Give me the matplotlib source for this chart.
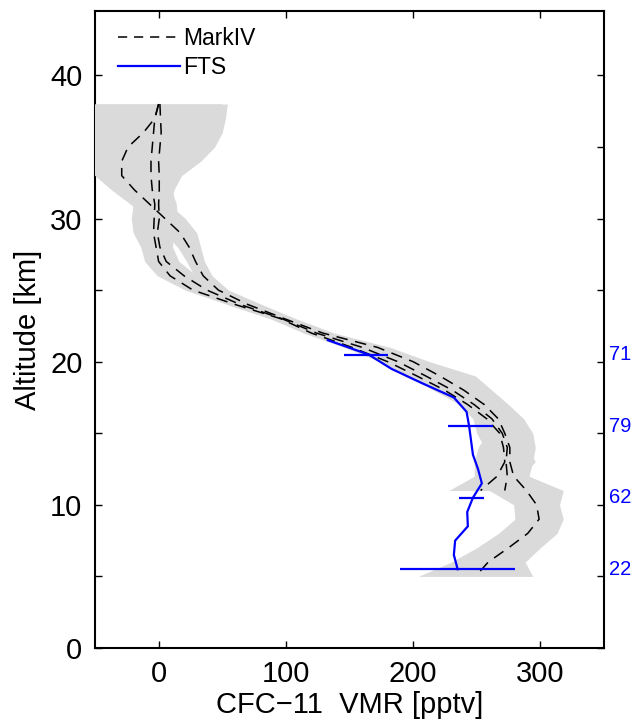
import numpy as np
import matplotlib
matplotlib.use("Agg")
import matplotlib.pyplot as plt
from matplotlib.lines import Line2D
from matplotlib.ticker import MultipleLocator

plt.rcParams['font.family'] = ['Liberation Sans', 'DejaVu Sans']

# MarkIV profiles on a 1 km grid (38 km down to 5 km), NaN where the profile ends
alt_mk = np.arange(38, 4, -1)
mk_a = [0, -3, -12, -24, -29, -29, -19, -7, 5, 17, 24, 29, 35, 47, 70, 99, 129,
        172, 200, 221, 240, 256, 267, 272, 276, 276, 279, 289, 297, 299, 290, 275, 259, 249]
mk_a_err = [50, 48, 45, 40, 33, 21, 18, 15, 16, 13, 9, 7, 7, 8, 11, 9, 9,
            10, 13, 28, 22, 19, 20, 22, 20, 18, 12, 29, 18, 19, 23, 25, 29, 45]
mk_b = [0, -3, -4, -5, -6, -6, -5, -3, -3.5, -4, -2, 0, 9, 27, 60, 96, 120,
        152, 180, 203, 225, 243, 258, 268, 271, 272, 266, 253]
mk_b_err = [50, 48, 45, 40, 33, 17, 15, 17, 18, 16, 12, 11, 10, 6, 6, 8, 6,
            6, 6, 6, 9, 6, 10, 10, 20, 24, 18, 25]
mk_c = [1, 1.5, 2, 1, 0, 0.5, 0.5, 0, 0.5, -1, 1, 6, 20, 38, 64, 97, 124,
        160, 188, 210, 231, 248, 262, 270, 274, 273, 274, 272]
mk_c_err = [53, 51, 48, 43, 33, 17.5, 11.5, 10, 12, 12, 10, 10, 10, 10, 10, 9, 8,
            10, 12, 14, 12, 12, 12, 14, 16, 16, 14, 20]

# FTS profile
alt_fts = np.arange(21.5, 5, -1)
fts = [133, 165, 183, 207, 232, 242, 244, 245.5, 247, 251, 254, 247, 242.5, 243, 233, 232, 235]

# FTS error bars and number of occultations
alt_bar = [20.5, 15.5, 10.5, 5.5]
bar_x = [163, 245, 246, 235]
bar_err = [17, 17.5, 10, 45]
counts = ['71', '79', '62', '22']

fig = plt.figure(figsize=(6.35, 7.24), dpi=100)
ax = fig.add_axes([0.1496, 0.105, 0.8016, 0.8798])

gray = '#dadada'
for x, e in [(mk_a, mk_a_err), (mk_b, mk_b_err), (mk_c, mk_c_err)]:
    x = np.array(x, dtype=float)
    e = np.array(e, dtype=float)
    z = alt_mk[:len(x)]
    ax.fill_betweenx(z, x - e, x + e, color=gray, lw=0, zorder=3)

for x in [mk_a, mk_b, mk_c]:
    ax.plot(x, alt_mk[:len(x)], color='k', lw=1.1, dashes=(7.5, 5), zorder=4)

ax.plot(fts, alt_fts, color='b', lw=1.6, zorder=5)
ax.hlines(alt_bar, np.array(bar_x) - np.array(bar_err), np.array(bar_x) + np.array(bar_err),
          color='b', lw=1.6, zorder=5)

for z, c in zip(alt_bar, counts):
    ax.text(354, z, c, color='b', fontsize=14.5, va='center', ha='left', clip_on=False)

ax.set_xlim(-50, 350)
ax.set_ylim(0, 44.5)
ax.set_xticks([0, 100, 200, 300])
ax.set_yticks([0, 10, 20, 30, 40])
ax.yaxis.set_minor_locator(MultipleLocator(5))
ax.tick_params(which='both', direction='in', top=True, right=True, length=5, width=1,
               labelsize=21, pad=9)
for s in ax.spines.values():
    s.set_linewidth(1.5)

ax.set_xlabel('CFC\u221211  VMR [pptv]', fontsize=21, labelpad=2)
ax.set_ylabel('Altitude [km]', fontsize=21, labelpad=6)

handles = [Line2D([], [], color='k', lw=1.1, dashes=(6, 4.5)),
           Line2D([], [], color='b', lw=1.6)]
ax.legend(handles, ['MarkIV', 'FTS'], loc='upper left', frameon=False, fontsize=16.5,
          handlelength=2.7, handletextpad=0.15, labelspacing=0.25,
          bbox_to_anchor=(0.014, 1.0), borderaxespad=0.3)

fig.savefig('out.png', dpi=100)
